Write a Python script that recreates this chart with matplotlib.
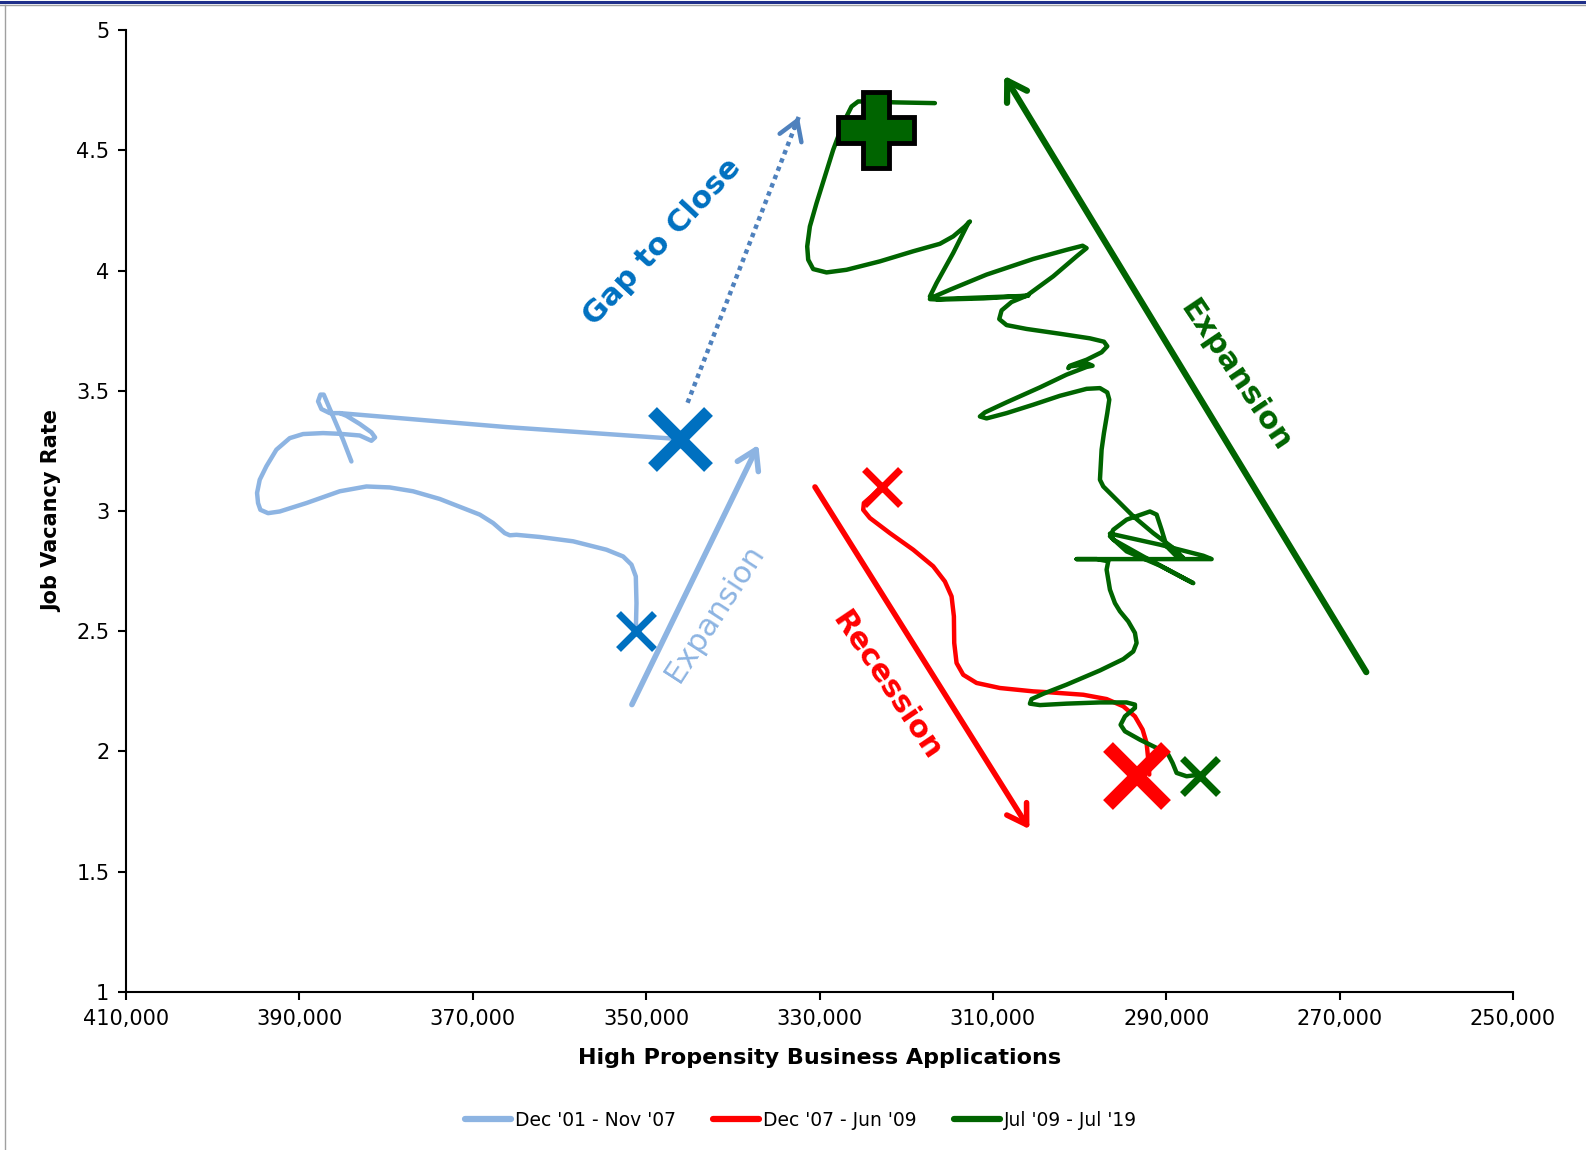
import numpy as np
import matplotlib
matplotlib.use("Agg")
import matplotlib.pyplot as plt
from matplotlib.lines import Line2D
from matplotlib.ticker import FuncFormatter

# Dec '01 - Nov '07 (traced from small X to large X)
blue_x = [351198, 351121, 351198, 351698, 352660, 354583, 358429, 362275, 364968,
          365737, 366314, 367660, 369199, 373814, 376891, 379584, 382276, 385353,
          389200, 392276, 393623, 394507, 394777, 394892, 394584, 393815, 392661,
          391123, 389584, 387276, 385353, 383046, 381699, 381276, 381699, 383046,
          384584, 385353, 366122, 346121]
blue_y = [2.50, 2.617, 2.728, 2.777, 2.811, 2.839, 2.874, 2.892, 2.901,
          2.899, 2.908, 2.950, 2.985, 3.050, 3.082, 3.098, 3.102, 3.082,
          3.033, 2.998, 2.991, 3.005, 3.033, 3.075, 3.130, 3.186, 3.255,
          3.303, 3.320, 3.324, 3.321, 3.314, 3.292, 3.306, 3.327, 3.362,
          3.396, 3.407, 3.349, 3.299]
blue_tail_x = [385352, 386506, 387468, 387853, 387583, 387199, 386122, 384968, 384006]
blue_tail_y = [3.407, 3.407, 3.424, 3.456, 3.484, 3.484, 3.393, 3.296, 3.206]

# Dec '07 - Jun '09
red_x = [322850, 324004, 324888, 324965, 324196, 321888, 319196, 316888, 315542,
         314773, 314504, 314465, 314196, 313427, 311888, 309196, 305350, 303427,
         299580, 296888, 294965, 293619, 292734, 292273, 292080, 291965]
red_y = [3.102, 3.061, 3.033, 3.005, 2.971, 2.908, 2.839, 2.770, 2.707,
         2.645, 2.562, 2.451, 2.368, 2.319, 2.285, 2.264, 2.250, 2.246,
         2.236, 2.218, 2.188, 2.146, 2.091, 2.035, 1.966, 1.904]

# Jul '09 - Jul '19
green_x = [286100, 287657, 288811, 289272, 289772, 290734, 293042, 294773, 295273,
           294773, 293619, 293619, 294581, 297657, 301503, 304580, 305734, 305542,
           304196, 301503, 297657, 294965, 293811, 293427, 293619, 294388, 295350,
           295927, 296503, 296887, 296695, 298041, 300349, 296503, 290733,
           284771, 285733, 290733, 296503, 296118, 292656, 286887, 287656, 290733,
           294580, 296503, 296118, 294580, 291887, 291118, 290541, 289964, 289002,
           288041, 289195, 291502, 293810, 295733, 297270, 297656, 297464, 297195,
           296810, 296579, 296810, 297656, 299195, 302272, 305349, 308426, 310734,
           311503, 310926, 308426, 304580, 301503, 299195, 298503, 299003, 301118,
           301310, 301118, 299195, 297464, 296810, 297195, 298810, 302272, 306118,
           308426, 309272, 309003, 307850, 306118, 303041, 300349, 299195, 299657,
           301503, 305349, 310734, 314965, 316888, 317272, 316118, 311118, 305926,
           311118, 316503, 317273, 316503, 314580, 312849, 312657, 313234, 314580,
           316119, 319196, 323042, 326888, 329196, 330735, 331312, 331427, 331119,
           330350, 329388, 328427, 327273, 326311, 325542, 323812, 321119, 316696]
green_y = [1.904, 1.897, 1.911, 1.952, 1.987, 2.008, 2.049, 2.084, 2.111,
           2.146, 2.181, 2.195, 2.204, 2.204, 2.199, 2.193, 2.199, 2.218,
           2.240, 2.278, 2.337, 2.384, 2.416, 2.451, 2.493, 2.541, 2.583,
           2.617, 2.673, 2.756, 2.791, 2.800, 2.800, 2.800, 2.800,
           2.800, 2.814, 2.860, 2.906, 2.881, 2.811, 2.700, 2.714, 2.773,
           2.832, 2.895, 2.922, 2.964, 2.998, 2.985, 2.922, 2.853, 2.818,
           2.805, 2.846, 2.908, 2.978, 3.047, 3.102, 3.130, 3.255, 3.324,
           3.407, 3.463, 3.493, 3.511, 3.508, 3.479, 3.442, 3.407, 3.385,
           3.393, 3.410, 3.452, 3.514, 3.567, 3.599, 3.604, 3.612, 3.601,
           3.594, 3.604, 3.629, 3.660, 3.685, 3.704, 3.718, 3.737, 3.757,
           3.773, 3.798, 3.834, 3.869, 3.895, 3.976, 4.059, 4.093, 4.103,
           4.086, 4.048, 3.983, 3.920, 3.890, 3.881, 3.879, 3.884, 3.895,
           3.888, 3.881, 3.892, 3.948, 4.073, 4.197, 4.204, 4.183, 4.142,
           4.111, 4.080, 4.038, 4.003, 3.992, 4.006, 4.045, 4.100, 4.183,
           4.280, 4.391, 4.502, 4.613, 4.682, 4.703, 4.702, 4.699, 4.696]

# period markers: start / end points
blue_start = (351200, 2.50)
blue_end = (346100, 3.30)
red_start = (322850, 3.10)
red_end = (293400, 1.90)
green_start = (286100, 1.90)
green_now = (323500, 4.585)

# annotation arrows (start, end) in data units
gap_arrow = [(345230, 3.45), (332390, 4.64)]
blue_arrow = [(351650, 2.195), (337060, 3.275)]
red_arrow = [(330530, 3.10), (305790, 1.677)]
green_arrow = [(266930, 2.33), (308700, 4.81)]

x_ticks = np.arange(410000, 249999, -20000)
y_ticks = np.arange(1, 5.01, 0.5)

LIGHT_BLUE = "#8db4e2"
BLUE = "#0070c0"
DOT_BLUE = "#4f81bd"
RED = "#ff0000"
GREEN = "#006400"

fig = plt.figure(figsize=(15.86, 11.5), dpi=100)
ax = fig.add_axes([0.0795, 0.1374, 0.8745, 0.8365])

line_kw = dict(lw=3.2, solid_joinstyle="round", solid_capstyle="round")
ax.plot(blue_x, blue_y, color=LIGHT_BLUE, label="Dec '01 - Nov '07", **line_kw)
ax.plot(blue_tail_x, blue_tail_y, color=LIGHT_BLUE, **line_kw)
ax.plot(red_x, red_y, color=RED, label="Dec '07 - Jun '09", **line_kw)
ax.plot(green_x, green_y, color=GREEN, label="Jul '09 - Jul '19", **line_kw)

# markers
ax.plot(*blue_start, marker="x", ms=26, mew=5, color=BLUE)
ax.plot(*blue_end, marker="x", ms=40, mew=9, color=BLUE)
ax.plot(*red_start, marker="x", ms=26, mew=5, color=RED)
ax.plot(*red_end, marker="x", ms=42, mew=10, color=RED)
ax.plot(*green_start, marker="x", ms=26, mew=5, color=GREEN)
ax.plot(*green_now, marker="P", ms=55, mew=3.5, mfc=GREEN, mec="black")

# arrows
head = "->,head_length=0.45,head_width=0.28"
for (p0, p1), col, lw in [(blue_arrow, LIGHT_BLUE, 4.0), (red_arrow, RED, 4.0),
                          (green_arrow, GREEN, 4.5)]:
    ax.annotate("", xy=p1, xytext=p0,
                arrowprops=dict(arrowstyle=head, color=col, lw=lw,
                                mutation_scale=30, shrinkA=0, shrinkB=0))

g0, g1 = gap_arrow
ax.plot([g0[0], g1[0]], [g0[1], g1[1]], color=DOT_BLUE, lw=3.2,
        linestyle=(0, (1, 1)), dash_capstyle="butt")
gmid = (g1[0] + 0.04 * (g0[0] - g1[0]), g1[1] + 0.04 * (g0[1] - g1[1]))
ax.annotate("", xy=g1, xytext=gmid,
            arrowprops=dict(arrowstyle=head, color=DOT_BLUE, lw=3.2,
                            mutation_scale=30, shrinkA=0, shrinkB=0))

# text labels
ax.text(348150, 4.117, "Gap to Close", color=BLUE, fontsize=22, fontweight="bold",
        rotation=47, ha="center", va="center", rotation_mode="anchor")
ax.text(342080, 2.573, "Expansion", color=LIGHT_BLUE, fontsize=22,
        rotation=57, ha="center", va="center", rotation_mode="anchor")
ax.text(322240, 2.274, "Recession", color=RED, fontsize=22, fontweight="bold",
        rotation=-56, ha="center", va="center", rotation_mode="anchor")
ax.text(281980, 3.562, "Expansion", color=GREEN, fontsize=22, fontweight="bold",
        rotation=-56, ha="center", va="center", rotation_mode="anchor")

# axes styling
ax.set_xlim(410000, 250000)
ax.set_ylim(1, 5)
ax.set_xticks(x_ticks)
ax.set_yticks(y_ticks)
ax.xaxis.set_major_formatter(FuncFormatter(lambda v, p: f"{int(v):,}"))
ax.yaxis.set_major_formatter(FuncFormatter(lambda v, p: f"{v:g}"))
ax.tick_params(axis="both", labelsize=15, direction="out", length=6, width=1.5, pad=6)
for side in ["top", "right"]:
    ax.spines[side].set_visible(False)
for side in ["left", "bottom"]:
    ax.spines[side].set_linewidth(1.5)
ax.set_xlabel("High Propensity Business Applications", fontsize=16,
              fontweight="bold", labelpad=14)
ax.set_ylabel("Job Vacancy Rate", fontsize=15, fontweight="bold", labelpad=10)

leg = fig.legend(loc="center", bbox_to_anchor=(0.505, 0.026), ncol=3, frameon=False,
                 fontsize=13.5, handlelength=2.45, handletextpad=0.2, columnspacing=2.0)
for h in leg.get_lines():
    h.set_linewidth(4.5)

# page frame
fig.add_artist(Line2D([0, 1], [1 - 1.5 / 1150] * 2, color="#1f2f8a", lw=2.2))
fig.add_artist(Line2D([0, 1], [1 - 4.5 / 1150] * 2, color="#a0a0a0", lw=1))
fig.add_artist(Line2D([4.5 / 1586] * 2, [0, 1 - 4.5 / 1150], color="#a0a0a0", lw=1))

fig.savefig("out.png", dpi=100)
